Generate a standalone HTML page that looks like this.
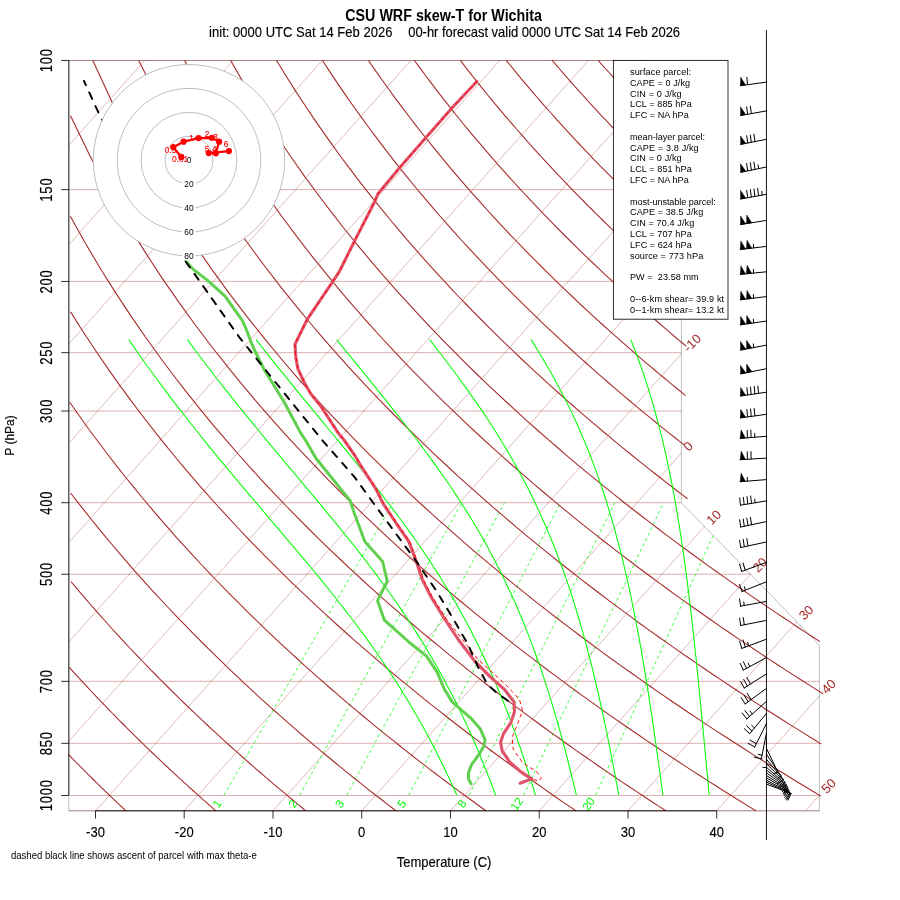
<!DOCTYPE html>
<html lang="en">
<head>
<meta charset="utf-8">
<title>CSU WRF skew-T for Wichita</title>
<style>
html,body{margin:0;padding:0;background:#fff;width:900px;height:900px;overflow:hidden}
svg{display:block;font-family:"Liberation Sans",Arial,Helvetica,sans-serif;font-size:13px;fill:#000;white-space:pre}
text{stroke:#000;stroke-width:.14px;stroke-linejoin:round}
.tl text{stroke:none}
.ml text{stroke:none}
.hk{stroke:#f00}
.isobar{stroke:#A52A2A;stroke-width:.75;stroke-opacity:.5}
.isotherm{stroke:#A52A2A;stroke-width:.8;stroke-opacity:.4}
.outline{stroke:#000;stroke-width:1;stroke-opacity:.25}
.mix{stroke:#0f0;stroke-width:.85;stroke-dasharray:3 3;stroke-opacity:.9}
.dry{stroke:#A52A2A;stroke-width:1.08}
.moist{stroke:#0f0;stroke-width:1.05}
.tl{fill:#A52A2A;font-size:13px}
.ml{fill:#0f0;font-size:11.7px;text-anchor:middle}
.ax path{stroke:#000;stroke-width:1;fill:none;stroke-opacity:.82}
.at{font-size:13px}
.td{stroke:#61D04F;stroke-width:3;fill:none;stroke-linejoin:round;stroke-linecap:round}
.t{stroke:#DF536B;stroke-width:3.1;fill:none;stroke-linejoin:round;stroke-linecap:round}
.tv{stroke:#f00;stroke-width:.95;fill:none;stroke-dasharray:3.1 3.9;stroke-linecap:round}
.pa{stroke:#000;stroke-width:1.95;fill:none;stroke-dasharray:7 8;stroke-dashoffset:-12.55;stroke-linecap:round}
.ring{fill:none;stroke:#bebebe;stroke-width:1}
.hl{font-size:8.4px;text-anchor:middle}
.hk{font-size:8.4px;fill:#f00;text-anchor:middle}
.hline{stroke:#f00;stroke-width:2.3;fill:none;stroke-linejoin:round;stroke-linecap:round}
.box{fill:#fff;stroke:#000;stroke-width:.9;stroke-opacity:.9}
.lg{font-size:9.12px}
.lg text,.fn,.hl{stroke:none}
.bl{stroke:#000;stroke-width:1;fill:none;stroke-linecap:round}
.bx{stroke:#000;stroke-width:1;stroke-opacity:.9;fill:none}
.bf{fill:#000;stroke:#000;stroke-width:.5}
.ttl{font-size:14.3px;font-weight:bold;text-anchor:middle;stroke:none}
.sub{font-size:13px}
.xt{font-size:13px;text-anchor:middle}
.yt{font-size:12px;text-anchor:middle}
.yl{letter-spacing:.8px}
.fn{font-size:9.55px}

</style>
</head>
<body>
<svg width="900" height="900" viewBox="0 0 900 900">
<rect width="900" height="900" fill="#fff"/>
<g fill="none">
<path d="M68.8 810.8H819.4M68.8 795.5H819.4M68.8 743.3H819.4M68.8 681.3H819.4M68.8 574.2H750.8M68.8 502.7H681.4M68.8 411H681.4M68.8 352.7H681.4M68.8 281.4H681.4M68.8 189.6H681.4M68.8 60.5H681.4" class="isobar"/>
<path d="M68.8 145.3L144.9 60.2M68.8 244.6L233.6 60.2M68.8 343.9L322.4 60.2M68.8 443.3L411.1 60.2M68.8 542.6L499.9 60.2M68.8 641.9L588.6 60.2M68.8 741.2L677.4 60.2M95.5 810.8L681.4 155.1M184.2 810.8L681.4 254.4M273 810.8L681.4 353.7M361.7 810.8L681.4 453M450.5 810.8L704.5 526.5M539.2 810.8L750.6 574.2M628 810.8L796.8 621.8M716.7 810.8L819.4 695.9M805.5 810.8L819.4 795.2" class="isotherm"/>
<path d="M68.8 60.5 L68.8 810.8 L819.4 810.8 L819.4 645.2 L681.4 502.7 L681.4 60.5 L68.8 60.5" class="outline"/>
<path d="M595.6 795.2L713.1 535.5M523.6 795.2L663.6 502.7M469.1 795.2L614.8 502.7M408.8 795.2L560.5 502.7M346.7 795.2L504.4 502.7M299.7 795.2L461.9 502.7M224 795.2L393.1 502.7" class="mix"/>
<path d="M68.4 754.4 L69.4 755.4 L70.4 756.5 L71.4 757.5 L72.4 758.5 L73.4 759.6 L74.4 760.6 L75.4 761.6 L76.4 762.6 L77.5 763.6 L78.5 764.7 L79.4 765.7 L80.4 766.7 L81.4 767.7 L82.4 768.7 L83.4 769.7 L84.4 770.7 L85.4 771.7 L86.4 772.7 L87.4 773.6 L88.4 774.6 L89.4 775.6 L90.3 776.6 L91.3 777.5 L92.3 778.5 L93.3 779.5 L94.3 780.5 L95.2 781.4 L96.2 782.4 L97.2 783.3 L98.2 784.3 L99.1 785.2 L100.1 786.2 L101.1 787.1 L102 788.1 L103 789 L104 789.9 L104.9 790.9 L105.9 791.8 L106.9 792.7 L107.8 793.7 L108.8 794.6 L109.7 795.5 L110.7 796.4 L111.6 797.3 L112.6 798.2 L113.5 799.2 L114.5 800.1 L115.4 801 L116.4 801.9 L117.3 802.8 L118.3 803.7 L119.2 804.6 L120.2 805.5 L121.1 806.3 L122.1 807.2 L123 808.1 L123.9 809 L124.9 809.9 L125.8 810.8M69.2 667.3 L72 670.4 L74.7 673.4 L77.5 676.4 L80.2 679.4 L82.9 682.3 L85.6 685.2 L88.3 688.1 L91 691 L93.7 693.8 L96.3 696.6 L99 699.4 L101.6 702.2 L104.3 704.9 L106.9 707.6 L109.5 710.3 L112.1 713 L114.7 715.7 L117.3 718.3 L119.8 720.9 L122.4 723.5 L125 726 L127.5 728.6 L130 731.1 L132.6 733.6 L135.1 736.1 L137.6 738.6 L140.1 741 L142.6 743.4 L145.1 745.8 L147.5 748.2 L150 750.6 L152.5 753 L154.9 755.3 L157.4 757.6 L159.8 759.9 L162.2 762.2 L164.6 764.5 L167 766.7 L169.4 769 L171.8 771.2 L174.2 773.4 L176.6 775.6 L178.9 777.8 L181.3 779.9 L183.6 782.1 L186 784.2 L188.3 786.3 L190.7 788.5 L193 790.5 L195.3 792.6 L197.6 794.7 L199.9 796.7 L202.2 798.8 L204.5 800.8 L206.8 802.8 L209 804.8 L211.3 806.8 L213.5 808.8 L215.8 810.8M70.9 581.5 L75.6 587.1 L80.3 592.7 L85 598.1 L89.6 603.5 L94.2 608.7 L98.7 613.9 L103.3 619 L107.8 624 L112.2 629 L116.7 633.8 L121.1 638.6 L125.5 643.3 L129.8 648 L134.2 652.6 L138.5 657.1 L142.7 661.5 L147 665.9 L151.2 670.3 L155.4 674.5 L159.6 678.8 L163.7 682.9 L167.8 687 L171.9 691.1 L176 695.1 L180.1 699.1 L184.1 703 L188.1 706.8 L192.1 710.6 L196 714.4 L200 718.1 L203.9 721.8 L207.8 725.5 L211.6 729.1 L215.5 732.6 L219.3 736.1 L223.1 739.6 L226.9 743.1 L230.7 746.5 L234.4 749.9 L238.2 753.2 L241.9 756.5 L245.6 759.8 L249.3 763 L252.9 766.2 L256.6 769.4 L260.2 772.5 L263.8 775.6 L267.4 778.7 L271 781.8 L274.5 784.8 L278.1 787.8 L281.6 790.7 L285.1 793.7 L288.6 796.6 L292.1 799.5 L295.5 802.3 L299 805.2 L302.4 808 L305.8 810.8M70.6 493 L77.6 502.1 L84.6 510.9 L91.4 519.5 L98.2 527.9 L104.9 536.1 L111.6 544 L118.2 551.8 L124.7 559.4 L131.1 566.8 L137.5 574.1 L143.8 581.1 L150.1 588.1 L156.3 594.8 L162.5 601.5 L168.6 608 L174.6 614.4 L180.6 620.6 L186.6 626.7 L192.5 632.8 L198.3 638.7 L204.1 644.5 L209.8 650.1 L215.5 655.7 L221.2 661.2 L226.8 666.6 L232.3 671.9 L237.9 677.2 L243.3 682.3 L248.8 687.4 L254.2 692.4 L259.5 697.3 L264.8 702.1 L270.1 706.9 L275.4 711.5 L280.6 716.2 L285.7 720.7 L290.8 725.2 L295.9 729.6 L301 734 L306 738.3 L311 742.6 L316 746.8 L320.9 750.9 L325.8 755 L330.7 759 L335.5 763 L340.3 766.9 L345.1 770.8 L349.8 774.7 L354.6 778.5 L359.2 782.2 L363.9 785.9 L368.5 789.6 L373.2 793.2 L377.7 796.8 L382.3 800.3 L386.8 803.9 L391.3 807.3 L395.8 810.8M69.7 402.2 L79.4 416 L88.8 429.2 L98.2 441.8 L107.4 454 L116.4 465.7 L125.4 477 L134.2 487.9 L142.9 498.5 L151.5 508.7 L160 518.6 L168.4 528.2 L176.6 537.6 L184.8 546.6 L192.9 555.4 L200.8 564 L208.7 572.4 L216.5 580.5 L224.2 588.4 L231.8 596.2 L239.4 603.7 L246.8 611.1 L254.2 618.3 L261.5 625.4 L268.7 632.3 L275.9 639.1 L282.9 645.7 L290 652.2 L296.9 658.5 L303.8 664.8 L310.6 670.9 L317.3 676.9 L324 682.7 L330.7 688.5 L337.2 694.2 L343.8 699.8 L350.2 705.3 L356.6 710.7 L363 716 L369.3 721.2 L375.5 726.3 L381.7 731.3 L387.9 736.3 L394 741.2 L400 746 L406.1 750.8 L412 755.5 L417.9 760.1 L423.8 764.6 L429.6 769.1 L435.4 773.5 L441.2 777.9 L446.9 782.2 L452.6 786.4 L458.2 790.6 L463.8 794.7 L469.3 798.8 L474.9 802.8 L480.3 806.8 L485.8 810.8M70.6 311.9 L83.1 331.7 L95.4 350.3 L107.4 367.9 L119.2 384.6 L130.8 400.4 L142.2 415.5 L153.4 429.9 L164.4 443.7 L175.2 457 L185.8 469.7 L196.3 481.9 L206.6 493.6 L216.8 505 L226.8 515.9 L236.6 526.5 L246.3 536.8 L255.9 546.7 L265.4 556.4 L274.7 565.7 L283.9 574.8 L292.9 583.6 L301.9 592.2 L310.8 600.6 L319.5 608.7 L328.1 616.7 L336.7 624.5 L345.1 632 L353.4 639.4 L361.7 646.7 L369.9 653.7 L377.9 660.7 L385.9 667.4 L393.8 674.1 L401.6 680.6 L409.4 686.9 L417 693.2 L424.6 699.3 L432.1 705.3 L439.6 711.2 L447 717 L454.3 722.7 L461.5 728.2 L468.7 733.7 L475.8 739.1 L482.9 744.4 L489.9 749.7 L496.8 754.8 L503.7 759.9 L510.5 764.8 L517.2 769.7 L524 774.6 L530.6 779.3 L537.2 784 L543.8 788.6 L550.3 793.2 L556.7 797.7 L563.1 802.1 L569.5 806.4 L575.8 810.8M70.3 216.2 L86 244.3 L101.4 270.2 L116.5 294.1 L131.2 316.4 L145.6 337.2 L159.6 356.7 L173.4 375.2 L186.9 392.6 L200.1 409.1 L213 424.8 L225.7 439.7 L238.1 454 L250.3 467.7 L262.3 480.8 L274.1 493.4 L285.7 505.5 L297.1 517.2 L308.3 528.5 L319.3 539.3 L330.2 549.9 L340.9 560 L351.4 569.9 L361.8 579.5 L372.1 588.8 L382.2 597.8 L392.1 606.6 L402 615.1 L411.7 623.5 L421.2 631.6 L430.7 639.5 L440.1 647.2 L449.3 654.8 L458.4 662.1 L467.4 669.3 L476.4 676.4 L485.2 683.2 L493.9 690 L502.5 696.6 L511.1 703.1 L519.5 709.4 L527.9 715.6 L536.2 721.7 L544.4 727.7 L552.5 733.6 L560.5 739.3 L568.5 745 L576.4 750.6 L584.2 756 L591.9 761.4 L599.6 766.7 L607.2 771.9 L614.7 777 L622.2 782.1 L629.6 787 L637 791.9 L644.3 796.7 L651.5 801.5 L658.7 806.1 L665.8 810.8M70.5 115.7 L89.8 155.5 L108.6 190.8 L126.9 222.6 L144.8 251.6 L162.1 278.1 L179.1 302.6 L195.5 325.3 L211.6 346.5 L227.3 366.4 L242.6 385.2 L257.5 402.9 L272.1 419.6 L286.4 435.6 L300.4 450.7 L314.2 465.2 L327.6 479.1 L340.8 492.4 L353.8 505.1 L366.5 517.4 L379 529.2 L391.2 540.6 L403.3 551.6 L415.2 562.2 L426.9 572.5 L438.4 582.4 L449.7 592.1 L460.9 601.5 L471.9 610.6 L482.8 619.4 L493.5 628 L504 636.4 L514.4 644.6 L524.7 652.6 L534.9 660.4 L544.9 668 L554.8 675.4 L564.6 682.6 L574.3 689.7 L583.8 696.6 L593.3 703.4 L602.6 710.1 L611.9 716.6 L621 723 L630.1 729.2 L639 735.3 L647.9 741.4 L656.7 747.3 L665.4 753.1 L674 758.8 L682.5 764.4 L690.9 769.9 L699.3 775.3 L707.6 780.6 L715.8 785.8 L723.9 791 L732 796 L740 801 L747.9 805.9 L755.8 810.8M92.7 60.2 L113.7 105.7 L134.3 145.4 L154.3 180.8 L173.7 212.6 L192.6 241.6 L210.9 268.1 L228.7 292.6 L246 315.4 L262.9 336.6 L279.3 356.5 L295.3 375.3 L311 393 L326.3 409.8 L341.3 425.7 L355.9 440.9 L370.2 455.4 L384.3 469.2 L398.1 482.5 L411.6 495.3 L424.8 507.5 L437.9 519.3 L450.7 530.7 L463.2 541.7 L475.6 552.4 L487.8 562.6 L499.8 572.6 L511.6 582.3 L523.2 591.6 L534.6 600.8 L545.9 609.6 L557 618.2 L568 626.6 L578.8 634.8 L589.5 642.8 L600.1 650.6 L610.5 658.2 L620.8 665.6 L630.9 672.8 L641 679.9 L650.9 686.8 L660.7 693.6 L670.4 700.3 L680 706.8 L689.5 713.2 L698.9 719.4 L708.2 725.6 L717.4 731.6 L726.5 737.5 L735.5 743.3 L744.4 749 L753.2 754.6 L762 760.1 L770.6 765.5 L779.2 770.8 L787.7 776 L796.2 781.2 L804.5 786.2 L812.8 791.2 L821 796.1M138.6 60.2 L157.8 98.5 L176.5 132.7 L194.7 163.6 L212.5 191.7 L229.7 217.6 L246.5 241.5 L262.9 263.8 L278.9 284.6 L294.5 304.1 L309.7 322.5 L324.6 339.9 L339.1 356.4 L353.3 372.1 L367.3 387.1 L380.9 401.4 L394.3 415 L407.5 428.1 L420.4 440.7 L433 452.9 L445.5 464.5 L457.7 475.8 L469.7 486.7 L481.6 497.2 L493.2 507.4 L504.7 517.2 L516 526.8 L527.1 536.1 L538.1 545.1 L548.9 553.9 L559.6 562.5 L570.2 570.8 L580.5 578.9 L590.8 586.8 L600.9 594.5 L610.9 602.1 L620.8 609.4 L630.6 616.6 L640.2 623.7 L649.8 630.6 L659.2 637.3 L668.6 643.9 L677.8 650.4 L686.9 656.7 L695.9 662.9 L704.9 669 L713.7 675 L722.5 680.9 L731.2 686.7 L739.8 692.3 L748.3 697.9 L756.7 703.4 L765 708.7 L773.3 714 L781.5 719.2 L789.6 724.4 L797.7 729.4 L805.7 734.4 L813.6 739.2 L821.4 744.1M184.5 60.2 L201.9 92.5 L218.9 121.8 L235.5 148.7 L251.7 173.4 L267.4 196.4 L282.8 217.8 L297.8 237.9 L312.5 256.8 L326.9 274.7 L340.9 291.6 L354.7 307.6 L368.1 322.9 L381.3 337.5 L394.3 351.4 L407 364.8 L419.5 377.6 L431.7 389.9 L443.8 401.8 L455.6 413.2 L467.2 424.3 L478.7 435 L490 445.3 L501.1 455.3 L512 465 L522.8 474.4 L533.4 483.6 L543.9 492.5 L554.3 501.1 L564.5 509.6 L574.5 517.8 L584.5 525.8 L594.3 533.6 L604 541.2 L613.6 548.6 L623 555.9 L632.4 563 L641.6 570 L650.8 576.8 L659.8 583.4 L668.8 590 L677.6 596.4 L686.4 602.6 L695 608.8 L703.6 614.8 L712.1 620.7 L720.5 626.6 L728.9 632.3 L737.1 637.9 L745.3 643.4 L753.4 648.8 L761.4 654.1 L769.3 659.4 L777.2 664.5 L785 669.6 L792.8 674.6 L800.5 679.5 L808.1 684.4 L815.6 689.1 L823.1 693.8M230.5 60.2 L246 87.1 L261.2 111.8 L276 134.8 L290.5 156.3 L304.6 176.4 L318.5 195.3 L332.1 213.1 L345.3 230 L358.4 246.1 L371.1 261.4 L383.6 275.9 L395.9 289.9 L408 303.2 L419.9 316.1 L431.5 328.4 L443 340.3 L454.2 351.7 L465.3 362.8 L476.2 373.5 L487 383.8 L497.6 393.8 L508 403.5 L518.3 412.9 L528.4 422.1 L538.4 431 L548.3 439.6 L558 448 L567.6 456.3 L577.1 464.3 L586.5 472.1 L595.8 479.7 L604.9 487.1 L614 494.4 L622.9 501.5 L631.8 508.5 L640.5 515.3 L649.2 521.9 L657.8 528.5 L666.2 534.9 L674.6 541.1 L682.9 547.3 L691.1 553.3 L699.3 559.2 L707.3 565.1 L715.3 570.8 L723.2 576.4 L731 581.9 L738.8 587.3 L746.5 592.6 L754.1 597.9 L761.7 603 L769.2 608.1 L776.6 613.1 L784 618 L791.3 622.9 L798.5 627.7 L805.7 632.4 L812.8 637 L819.9 641.6M276.4 60.2 L285.9 75.8 L295.3 90.6 L304.6 104.8 L313.7 118.4 L322.7 131.4 L331.6 143.9 L340.3 156 L349 167.6 L357.5 178.8 L365.9 189.6 L374.2 200.1 L382.4 210.2 L390.5 220 L398.5 229.6 L406.3 238.8 L414.2 247.8 L421.9 256.6 L429.5 265.1 L437 273.4 L444.5 281.4 L451.8 289.3 L459.1 297 L466.4 304.5 L473.5 311.9 L480.6 319 L487.6 326.1 L494.5 332.9 L501.3 339.6 L508.1 346.2 L514.9 352.7 L521.5 359 L528.1 365.2 L534.7 371.3 L541.2 377.2 L547.6 383.1 L554 388.9 L560.3 394.5 L566.5 400.1 L572.8 405.5 L578.9 410.9 L585 416.1 L591.1 421.3 L597.1 426.4 L603.1 431.5 L609 436.4 L614.9 441.3 L620.7 446.1 L626.5 450.8 L632.2 455.5 L637.9 460.1 L643.6 464.6 L649.2 469.1 L654.8 473.5 L660.3 477.8 L665.8 482.1 L671.3 486.3 L676.7 490.5 L682.1 494.6 L687.4 498.7M322.3 60.2 L330.4 72.6 L338.4 84.6 L346.3 96.1 L354.1 107.2 L361.8 117.9 L369.4 128.3 L376.9 138.4 L384.3 148.2 L391.7 157.6 L398.9 166.8 L406.1 175.8 L413.2 184.5 L420.2 192.9 L427.2 201.2 L434 209.2 L440.8 217 L447.6 224.7 L454.2 232.2 L460.8 239.5 L467.4 246.6 L473.9 253.6 L480.3 260.4 L486.6 267.1 L492.9 273.7 L499.2 280.1 L505.3 286.4 L511.5 292.6 L517.5 298.6 L523.6 304.6 L529.5 310.4 L535.5 316.1 L541.3 321.8 L547.1 327.3 L552.9 332.7 L558.7 338.1 L564.3 343.3 L570 348.5 L575.6 353.6 L581.1 358.6 L586.6 363.5 L592.1 368.4 L597.5 373.2 L602.9 377.9 L608.3 382.5 L613.6 387.1 L618.9 391.6 L624.1 396.1 L629.3 400.5 L634.5 404.8 L639.6 409.1 L644.7 413.3 L649.8 417.4 L654.8 421.5 L659.8 425.6 L664.8 429.6 L669.7 433.6 L674.7 437.5 L679.5 441.3 L684.4 445.1M368.3 60.2 L375.1 70.1 L381.9 79.7 L388.6 89 L395.2 98.1 L401.8 106.9 L408.3 115.5 L414.7 123.8 L421.1 132 L427.4 139.9 L433.6 147.7 L439.8 155.2 L445.9 162.6 L452 169.8 L458 176.9 L464 183.8 L469.9 190.6 L475.7 197.2 L481.5 203.7 L487.3 210 L493 216.3 L498.6 222.4 L504.2 228.4 L509.8 234.3 L515.3 240 L520.8 245.7 L526.2 251.3 L531.6 256.8 L537 262.2 L542.3 267.5 L547.5 272.7 L552.8 277.8 L557.9 282.9 L563.1 287.8 L568.2 292.7 L573.3 297.5 L578.3 302.3 L583.3 307 L588.3 311.6 L593.2 316.1 L598.1 320.6 L603 325 L607.8 329.4 L612.6 333.7 L617.4 337.9 L622.2 342.1 L626.9 346.2 L631.6 350.3 L636.2 354.4 L640.8 358.3 L645.4 362.3 L650 366.2 L654.6 370 L659.1 373.8 L663.6 377.5 L668 381.2 L672.5 384.9 L676.9 388.5 L681.3 392.1 L685.6 395.6M414.2 60.2 L419.9 67.9 L425.5 75.5 L431.1 82.9 L436.6 90.1 L442 97.2 L447.5 104.1 L452.8 110.9 L458.2 117.5 L463.4 124 L468.7 130.3 L473.9 136.6 L479.1 142.7 L484.2 148.7 L489.3 154.6 L494.3 160.4 L499.3 166.1 L504.3 171.6 L509.2 177.1 L514.1 182.5 L519 187.8 L523.8 193 L528.6 198.2 L533.3 203.2 L538.1 208.2 L542.8 213.1 L547.4 217.9 L552 222.7 L556.6 227.3 L561.2 232 L565.7 236.5 L570.3 241 L574.7 245.4 L579.2 249.8 L583.6 254.1 L588 258.3 L592.4 262.5 L596.7 266.6 L601 270.7 L605.3 274.8 L609.6 278.7 L613.8 282.7 L618 286.5 L622.2 290.4 L626.4 294.2 L630.5 297.9 L634.7 301.6 L638.7 305.3 L642.8 308.9 L646.9 312.5 L650.9 316 L654.9 319.5 L658.9 323 L662.9 326.4 L666.8 329.8 L670.7 333.2 L674.6 336.5 L678.5 339.8 L682.4 343 L686.2 346.2M460.2 60.2 L464.7 66.1 L469.2 71.9 L473.7 77.6 L478.1 83.2 L482.6 88.6 L486.9 94 L491.3 99.4 L495.6 104.6 L499.9 109.7 L504.2 114.8 L508.4 119.7 L512.7 124.6 L516.9 129.5 L521 134.2 L525.2 138.9 L529.3 143.5 L533.4 148.1 L537.4 152.6 L541.5 157 L545.5 161.4 L549.5 165.7 L553.4 169.9 L557.4 174.1 L561.3 178.2 L565.2 182.3 L569.1 186.4 L572.9 190.3 L576.8 194.3 L580.6 198.2 L584.4 202 L588.1 205.8 L591.9 209.5 L595.6 213.3 L599.3 216.9 L603 220.5 L606.7 224.1 L610.3 227.7 L614 231.2 L617.6 234.6 L621.2 238.1 L624.8 241.4 L628.3 244.8 L631.9 248.1 L635.4 251.4 L638.9 254.7 L642.4 257.9 L645.9 261.1 L649.3 264.2 L652.8 267.3 L656.2 270.4 L659.6 273.5 L663 276.5 L666.4 279.6 L669.7 282.5 L673.1 285.5 L676.4 288.4 L679.7 291.3 L683 294.2 L686.3 297M506.1 60.2 L509.6 64.5 L513 68.7 L516.5 72.9 L519.9 77.1 L523.3 81.1 L526.7 85.2 L530.1 89.1 L533.5 93.1 L536.8 97 L540.1 100.8 L543.4 104.6 L546.7 108.3 L550 112 L553.3 115.7 L556.5 119.3 L559.7 122.9 L562.9 126.4 L566.1 129.9 L569.3 133.4 L572.5 136.8 L575.6 140.2 L578.8 143.5 L581.9 146.8 L585 150.1 L588.1 153.4 L591.2 156.6 L594.2 159.8 L597.3 162.9 L600.3 166.1 L603.4 169.1 L606.4 172.2 L609.4 175.2 L612.4 178.2 L615.3 181.2 L618.3 184.2 L621.2 187.1 L624.2 190 L627.1 192.9 L630 195.7 L632.9 198.5 L635.8 201.3 L638.7 204.1 L641.5 206.8 L644.4 209.5 L647.2 212.2 L650.1 214.9 L652.9 217.6 L655.7 220.2 L658.5 222.8 L661.3 225.4 L664.1 228 L666.8 230.5 L669.6 233.1 L672.3 235.6 L675.1 238.1 L677.8 240.5 L680.5 243 L683.2 245.4 L685.9 247.8M552 60.2 L554.6 63.2 L557.1 66.1 L559.6 69 L562.1 71.9 L564.5 74.7 L567 77.6 L569.5 80.4 L571.9 83.2 L574.4 85.9 L576.8 88.6 L579.2 91.4 L581.6 94 L584.1 96.7 L586.5 99.4 L588.8 102 L591.2 104.6 L593.6 107.2 L596 109.7 L598.3 112.3 L600.7 114.8 L603 117.3 L605.4 119.7 L607.7 122.2 L610 124.6 L612.3 127.1 L614.6 129.5 L616.9 131.9 L619.2 134.2 L621.5 136.6 L623.7 138.9 L626 141.2 L628.3 143.5 L630.5 145.8 L632.8 148.1 L635 150.3 L637.2 152.6 L639.4 154.8 L641.7 157 L643.9 159.2 L646.1 161.4 L648.3 163.5 L650.4 165.7 L652.6 167.8 L654.8 169.9 L657 172 L659.1 174.1 L661.3 176.2 L663.4 178.2 L665.6 180.3 L667.7 182.3 L669.8 184.3 L671.9 186.4 L674.1 188.4 L676.2 190.3 L678.3 192.3 L680.4 194.3 L682.4 196.2 L684.5 198.2 L686.6 200.1M598 60.2 L599.6 62 L601.1 63.8 L602.7 65.5 L604.3 67.3 L605.9 69 L607.4 70.7 L609 72.5 L610.6 74.2 L612.1 75.9 L613.7 77.6 L615.2 79.3 L616.8 80.9 L618.3 82.6 L619.8 84.3 L621.4 85.9 L622.9 87.6 L624.4 89.2 L626 90.8 L627.5 92.4 L629 94 L630.5 95.6 L632 97.2 L633.5 98.8 L635 100.4 L636.5 102 L638 103.5 L639.5 105.1 L641 106.6 L642.5 108.2 L644 109.7 L645.5 111.2 L647 112.8 L648.4 114.3 L649.9 115.8 L651.4 117.3 L652.8 118.8 L654.3 120.2 L655.8 121.7 L657.2 123.2 L658.7 124.6 L660.1 126.1 L661.6 127.6 L663 129 L664.5 130.4 L665.9 131.9 L667.3 133.3 L668.8 134.7 L670.2 136.1 L671.6 137.5 L673 138.9 L674.5 140.3 L675.9 141.7 L677.3 143.1 L678.7 144.4 L680.1 145.8 L681.5 147.2 L682.9 148.5 L684.3 149.9 L685.7 151.2M643.9 60.2 L644.7 61 L645.4 61.8 L646.2 62.6 L646.9 63.4 L647.7 64.2 L648.4 65 L649.2 65.8 L649.9 66.6 L650.7 67.4 L651.4 68.2 L652.2 69 L652.9 69.8 L653.7 70.6 L654.4 71.4 L655.1 72.1 L655.9 72.9 L656.6 73.7 L657.4 74.5 L658.1 75.3 L658.8 76 L659.6 76.8 L660.3 77.6 L661.1 78.3 L661.8 79.1 L662.5 79.9 L663.3 80.6 L664 81.4 L664.7 82.2 L665.5 82.9 L666.2 83.7 L666.9 84.4 L667.7 85.2 L668.4 85.9 L669.1 86.7 L669.8 87.4 L670.6 88.2 L671.3 88.9 L672 89.6 L672.7 90.4 L673.5 91.1 L674.2 91.8 L674.9 92.6 L675.6 93.3 L676.4 94 L677.1 94.8 L677.8 95.5 L678.5 96.2 L679.2 97 L679.9 97.7 L680.7 98.4 L681.4 99.1 L682.1 99.8 L682.8 100.5 L683.5 101.3 L684.2 102 L684.9 102.7 L685.7 103.4 L686.4 104.1 L687.1 104.8" class="dry"/>
<path d="M709.3 795.2 L709 792 L708.6 788.7 L708.3 785.5 L708 782.1 L707.7 778.8 L707.4 775.4 L707.1 772 L706.7 768.6 L706.4 765.1 L706.1 761.5 L705.7 758 L705.4 754.4 L705 750.7 L704.7 747 L704.3 743.3 L704 739.5 L703.6 735.7 L703.3 731.8 L702.9 727.9 L702.5 723.9 L702.1 719.9 L701.7 715.9 L701.3 711.7 L700.9 707.6 L700.5 703.3 L700.1 699.1 L699.7 694.7 L699.2 690.3 L698.8 685.9 L698.4 681.3 L697.9 676.7 L697.4 672.1 L696.9 667.3 L696.5 662.5 L696 657.7 L695.4 652.7 L694.9 647.7 L694.4 642.6 L693.8 637.4 L693.2 632.1 L692.6 626.8 L692 621.3 L691.4 615.8 L690.7 610.1 L690 604.3 L689.3 598.5 L688.6 592.5 L687.8 586.4 L687.1 580.2 L686.2 573.9 L685.4 567.5 L684.5 560.9 L683.5 554.2 L682.5 547.3 L681.5 540.3 L680.4 533.1 L679.3 525.8 L678 518.3 L676.8 510.6 L675.4 502.7 L673.9 494.6 L672.4 486.3 L670.7 477.8 L668.9 469.1 L667 460.1 L665 450.8 L662.8 441.3 L660.4 431.5 L657.7 421.3 L654.9 410.9 L651.8 400.1 L648.4 388.9 L644.6 377.2 L640.5 365.2 L635.9 352.7 L630.8 339.6M662.9 795.2 L662.5 792 L662 788.7 L661.6 785.5 L661.1 782.1 L660.7 778.8 L660.2 775.4 L659.8 772 L659.3 768.6 L658.8 765.1 L658.3 761.5 L657.8 758 L657.3 754.4 L656.8 750.7 L656.3 747 L655.8 743.3 L655.2 739.5 L654.7 735.7 L654.1 731.8 L653.6 727.9 L653 723.9 L652.4 719.9 L651.8 715.9 L651.2 711.7 L650.5 707.6 L649.9 703.3 L649.2 699.1 L648.6 694.7 L647.9 690.3 L647.2 685.9 L646.4 681.3 L645.7 676.7 L644.9 672.1 L644.2 667.3 L643.3 662.5 L642.5 657.7 L641.7 652.7 L640.8 647.7 L639.9 642.6 L638.9 637.4 L638 632.1 L636.9 626.8 L635.9 621.3 L634.8 615.8 L633.7 610.1 L632.5 604.3 L631.3 598.5 L630.1 592.5 L628.8 586.4 L627.4 580.2 L625.9 573.9 L624.4 567.5 L622.9 560.9 L621.2 554.2 L619.5 547.3 L617.6 540.3 L615.7 533.1 L613.7 525.8 L611.5 518.3 L609.2 510.6 L606.8 502.7 L604.2 494.6 L601.5 486.3 L598.5 477.8 L595.4 469.1 L592 460.1 L588.4 450.8 L584.5 441.3 L580.3 431.5 L575.8 421.3 L570.9 410.9 L565.6 400.1 L559.8 388.9 L553.5 377.2 L546.7 365.2 L539.2 352.7 L531.1 339.6M618.7 795.2 L618.1 792 L617.6 788.7 L617 785.5 L616.3 782.1 L615.7 778.8 L615.1 775.4 L614.5 772 L613.8 768.6 L613.1 765.1 L612.5 761.5 L611.8 758 L611.1 754.4 L610.4 750.7 L609.6 747 L608.9 743.3 L608.1 739.5 L607.4 735.7 L606.6 731.8 L605.8 727.9 L604.9 723.9 L604.1 719.9 L603.2 715.9 L602.3 711.7 L601.4 707.6 L600.5 703.3 L599.5 699.1 L598.6 694.7 L597.5 690.3 L596.5 685.9 L595.4 681.3 L594.3 676.7 L593.2 672.1 L592.1 667.3 L590.9 662.5 L589.6 657.7 L588.3 652.7 L587 647.7 L585.7 642.6 L584.2 637.4 L582.8 632.1 L581.2 626.8 L579.7 621.3 L578 615.8 L576.3 610.1 L574.5 604.3 L572.7 598.5 L570.8 592.5 L568.7 586.4 L566.6 580.2 L564.4 573.9 L562.1 567.5 L559.7 560.9 L557.1 554.2 L554.5 547.3 L551.6 540.3 L548.7 533.1 L545.5 525.8 L542.2 518.3 L538.7 510.6 L535 502.7 L531.1 494.6 L526.9 486.3 L522.5 477.8 L517.7 469.1 L512.7 460.1 L507.3 450.8 L501.6 441.3 L495.5 431.5 L489 421.3 L482.1 410.9 L474.6 400.1 L466.7 388.9 L458.3 377.2 L449.3 365.2 L439.8 352.7 L429.7 339.6M576.3 795.2 L575.6 792 L574.8 788.7 L574 785.5 L573.2 782.1 L572.4 778.8 L571.6 775.4 L570.7 772 L569.9 768.6 L569 765.1 L568.1 761.5 L567.2 758 L566.2 754.4 L565.3 750.7 L564.3 747 L563.3 743.3 L562.3 739.5 L561.2 735.7 L560.2 731.8 L559.1 727.9 L558 723.9 L556.8 719.9 L555.6 715.9 L554.4 711.7 L553.2 707.6 L551.9 703.3 L550.6 699.1 L549.2 694.7 L547.9 690.3 L546.4 685.9 L545 681.3 L543.4 676.7 L541.9 672.1 L540.3 667.3 L538.6 662.5 L536.9 657.7 L535.1 652.7 L533.2 647.7 L531.3 642.6 L529.4 637.4 L527.3 632.1 L525.2 626.8 L523 621.3 L520.6 615.8 L518.3 610.1 L515.8 604.3 L513.2 598.5 L510.5 592.5 L507.6 586.4 L504.7 580.2 L501.6 573.9 L498.3 567.5 L495 560.9 L491.4 554.2 L487.7 547.3 L483.8 540.3 L479.7 533.1 L475.4 525.8 L470.9 518.3 L466.1 510.6 L461.1 502.7 L455.8 494.6 L450.3 486.3 L444.4 477.8 L438.3 469.1 L431.8 460.1 L425 450.8 L417.9 441.3 L410.4 431.5 L402.5 421.3 L394.3 410.9 L385.6 400.1 L376.6 388.9 L367.2 377.2 L357.4 365.2 L347.2 352.7 L336.7 339.6M535.4 795.2 L534.4 792 L533.5 788.7 L532.5 785.5 L531.4 782.1 L530.4 778.8 L529.3 775.4 L528.3 772 L527.2 768.6 L526 765.1 L524.9 761.5 L523.7 758 L522.5 754.4 L521.3 750.7 L520 747 L518.7 743.3 L517.4 739.5 L516.1 735.7 L514.7 731.8 L513.2 727.9 L511.8 723.9 L510.3 719.9 L508.8 715.9 L507.2 711.7 L505.6 707.6 L503.9 703.3 L502.2 699.1 L500.4 694.7 L498.6 690.3 L496.7 685.9 L494.8 681.3 L492.8 676.7 L490.7 672.1 L488.6 667.3 L486.4 662.5 L484.2 657.7 L481.8 652.7 L479.4 647.7 L476.9 642.6 L474.3 637.4 L471.6 632.1 L468.8 626.8 L465.9 621.3 L462.9 615.8 L459.7 610.1 L456.5 604.3 L453.1 598.5 L449.6 592.5 L445.9 586.4 L442.1 580.2 L438.2 573.9 L434 567.5 L429.7 560.9 L425.2 554.2 L420.5 547.3 L415.7 540.3 L410.6 533.1 L405.3 525.8 L399.7 518.3 L394 510.6 L388 502.7 L381.7 494.6 L375.2 486.3 L368.4 477.8 L361.4 469.1 L354.1 460.1 L346.6 450.8 L338.7 441.3 L330.6 431.5 L322.2 421.3 L313.6 410.9 L304.7 400.1 L295.5 388.9 L286 377.2 L276.3 365.2 L266.3 352.7 L256.1 339.6M495.6 795.2 L494.4 792 L493.2 788.7 L492 785.5 L490.7 782.1 L489.5 778.8 L488.1 775.4 L486.8 772 L485.4 768.6 L484 765.1 L482.6 761.5 L481.1 758 L479.6 754.4 L478.1 750.7 L476.5 747 L474.9 743.3 L473.3 739.5 L471.6 735.7 L469.9 731.8 L468.1 727.9 L466.3 723.9 L464.4 719.9 L462.5 715.9 L460.5 711.7 L458.5 707.6 L456.4 703.3 L454.2 699.1 L452 694.7 L449.7 690.3 L447.4 685.9 L445 681.3 L442.5 676.7 L439.9 672.1 L437.3 667.3 L434.5 662.5 L431.7 657.7 L428.8 652.7 L425.8 647.7 L422.7 642.6 L419.5 637.4 L416.1 632.1 L412.7 626.8 L409.1 621.3 L405.4 615.8 L401.6 610.1 L397.7 604.3 L393.6 598.5 L389.4 592.5 L385 586.4 L380.4 580.2 L375.7 573.9 L370.9 567.5 L365.9 560.9 L360.6 554.2 L355.3 547.3 L349.7 540.3 L343.9 533.1 L338 525.8 L331.8 518.3 L325.5 510.6 L318.9 502.7 L312.2 494.6 L305.3 486.3 L298.1 477.8 L290.8 469.1 L283.2 460.1 L275.5 450.8 L267.5 441.3 L259.4 431.5 L251.1 421.3 L242.5 410.9 L233.8 400.1 L224.9 388.9 L215.8 377.2 L206.6 365.2 L197.1 352.7 L187.5 339.6M456.8 795.2 L455.4 792 L453.9 788.7 L452.4 785.5 L450.9 782.1 L449.4 778.8 L447.8 775.4 L446.2 772 L444.5 768.6 L442.8 765.1 L441.1 761.5 L439.3 758 L437.5 754.4 L435.7 750.7 L433.8 747 L431.8 743.3 L429.8 739.5 L427.8 735.7 L425.7 731.8 L423.6 727.9 L421.4 723.9 L419.1 719.9 L416.8 715.9 L414.4 711.7 L412 707.6 L409.5 703.3 L406.9 699.1 L404.2 694.7 L401.5 690.3 L398.7 685.9 L395.8 681.3 L392.8 676.7 L389.8 672.1 L386.6 667.3 L383.4 662.5 L380 657.7 L376.6 652.7 L373.1 647.7 L369.4 642.6 L365.7 637.4 L361.8 632.1 L357.8 626.8 L353.7 621.3 L349.5 615.8 L345.1 610.1 L340.6 604.3 L336 598.5 L331.3 592.5 L326.4 586.4 L321.3 580.2 L316.2 573.9 L310.8 567.5 L305.4 560.9 L299.7 554.2 L294 547.3 L288 540.3 L281.9 533.1 L275.7 525.8 L269.3 518.3 L262.8 510.6 L256.1 502.7 L249.2 494.6 L242.2 486.3 L235.1 477.8 L227.8 469.1 L220.3 460.1 L212.7 450.8 L205 441.3 L197.1 431.5 L189.1 421.3 L180.9 410.9 L172.5 400.1 L164.1 388.9 L155.5 377.2 L146.7 365.2 L137.8 352.7 L128.8 339.6" class="moist"/>
</g>
<g class="tl">
<text transform="translate(681.37 353.72) rotate(-45)" x="5.9" y="4.5">-10</text>
<text transform="translate(681.37 453.04) rotate(-45)" x="5.9" y="4.5">0</text>
<text transform="translate(704.45 526.53) rotate(-45)" x="5.9" y="4.5">10</text>
<text transform="translate(750.63 574.18) rotate(-45)" x="5.9" y="4.5">20</text>
<text transform="translate(796.8 621.83) rotate(-45)" x="5.9" y="4.5">30</text>
<text transform="translate(819.4 695.85) rotate(-45)" x="5.9" y="4.5">40</text>
<text transform="translate(819.4 795.18) rotate(-45)" x="5.9" y="4.5">50</text>
</g>
<g class="ml">
<text transform="translate(588.51 803.06) rotate(-55)" x="-0.6" y="4.5">20</text>
<text transform="translate(516.59 803.06) rotate(-55)" x="-0.6" y="4.5">12</text>
<text transform="translate(462.09 803.06) rotate(-55)" x="-0.6" y="4.5">8</text>
<text transform="translate(401.78 803.06) rotate(-55)" x="-0.6" y="4.5">5</text>
<text transform="translate(339.61 803.06) rotate(-55)" x="-0.6" y="4.5">3</text>
<text transform="translate(292.65 803.06) rotate(-55)" x="-0.6" y="4.5">2</text>
<text transform="translate(216.91 803.06) rotate(-55)" x="-0.6" y="4.5">1</text>
</g>
<g class="ax">
<path d="M68.85 60.2V795.2M68.85 60.45H61.25M68.85 189.62H61.25M68.85 281.45H61.25M68.85 352.68H61.25M68.85 411.02H61.25M68.85 502.7H61.25M68.85 574.23H61.25M68.85 681.33H61.25M68.85 743.3H61.25M68.85 795.48H61.25M95.5 810.8H716.7M95.5 810.8V818.5M184.2 810.8V818.5M273 810.8V818.5M361.7 810.8V818.5M450.5 810.8V818.5M539.2 810.8V818.5M628 810.8V818.5M716.7 810.8V818.5"/>
</g>
<g class="at" text-anchor="middle">
<text transform="translate(51.7 60.2) rotate(-90) scale(1 1.2)" class="yl">100</text>
<text transform="translate(51.7 189.62) rotate(-90) scale(1 1.2)" class="yl">150</text>
<text transform="translate(51.7 281.45) rotate(-90) scale(1 1.2)" class="yl">200</text>
<text transform="translate(51.7 352.68) rotate(-90) scale(1 1.2)" class="yl">250</text>
<text transform="translate(51.7 410.87) rotate(-90) scale(1 1.2)" class="yl">300</text>
<text transform="translate(51.7 502.7) rotate(-90) scale(1 1.2)" class="yl">400</text>
<text transform="translate(51.7 573.93) rotate(-90) scale(1 1.2)" class="yl">500</text>
<text transform="translate(51.7 681.33) rotate(-90) scale(1 1.2)" class="yl">700</text>
<text transform="translate(51.7 743.3) rotate(-90) scale(1 1.2)" class="yl">850</text>
<text transform="translate(51.7 795.18) rotate(-90) scale(1 1.2)" class="yl">1000</text>
<text transform="translate(95.48 837) scale(1 1.09)">-30</text>
<text transform="translate(184.23 837) scale(1 1.09)">-20</text>
<text transform="translate(272.98 837) scale(1 1.09)">-10</text>
<text transform="translate(361.73 837) scale(1 1.09)">0</text>
<text transform="translate(450.48 837) scale(1 1.09)">10</text>
<text transform="translate(539.23 837) scale(1 1.09)">20</text>
<text transform="translate(627.98 837) scale(1 1.09)">30</text>
<text transform="translate(716.73 837) scale(1 1.09)">40</text>
</g>
<path d="M185 259.5 L186.5 261.5 L190.5 266.5 L195.6 271.3 L206.7 279.6 L224.8 295.8 L242.4 320.6 L246.5 330 L251.3 342.8 L254.7 350.5 L264.4 370 L284 401.8 L301 433.6 L305.4 440 L315.8 458 L350.1 500.6 L354.3 513.3 L364.8 541.5 L382.6 561.5 L387.3 581.3 L377.5 600.6 L384.4 620.2 L410 643 L426.5 656.2 L437.5 672.6 L444 688.5 L452.1 701.9 L470.5 717.8 L480.2 728.8 L485.1 739.8 L483.9 745.9 L479 754.5 L471.7 764.3 L468.5 772.8 L468.5 778.9 L471 783.8" class="td"/>
<path d="M476.8 81.5 L451.1 108.9 L426 137.5 L399.8 167.6 L381.5 189.6 L377.8 194 L374.9 201.3 L354.6 240.9 L345.1 260 L339 272.2 L331.7 283.2 L307.2 319.4 L295 344.3 L295.7 356.6 L297.9 368.8 L304.8 383.5 L310.9 394 L320.7 406 L337.8 432.4 L344 440 L354.9 455.6 L359.9 464.4 L375.8 488.9 L383.1 503.6 L397.8 525.6 L408.8 541.5 L413 552.5 L417.4 564.7 L422.2 579.4 L430.8 596.5 L444.3 618.5 L458.6 640 L474.1 660.3 L490 676.7 L504.7 689.7 L514 701.9 L514.5 711.7 L510.8 722.7 L503.5 733.7 L500.5 742.2 L502.2 750.8 L509.6 761.8 L520.6 771.6 L531.6 778.9 L520.1 783.3" class="t"/>
<path d="M476.8 81.5 L451.1 108.9 L426 137.5 L399.8 167.6 L381.5 189.6 L377.8 194 L374.9 201.3 L354.6 240.9 L345.1 260 L339 272.2 L331.7 283.2 L307.2 319.4 L295 344.3 L295.7 356.6 L297.9 368.8 L304.8 383.5 L310.9 394 L320.7 406 L338 432.4 L344.2 440 L355.2 455.6 L360.3 464.4 L376.3 488.9 L383.7 503.6 L398.6 525.6 L409.6 541.5 L414 552.5 L418.5 564.7 L423.4 579.4 L432.2 596.5 L446.2 618.5 L447.2 620 L477.8 659.1 L507.1 686 L519.4 699.5 L522.5 710.5 L518.1 722.7 L512 737.4 L513.3 749.6 L523 763 L536.5 771.6 L541.4 777.7 L539 781 L531.6 778.9" class="tv"/>
<path d="M84 81 L100 116 L186 262 L240 338.2 L322 440 L355 477.6 L373.3 503 L414.9 559.3 L436.9 591.6 L454.6 621.2 L468 644.4 L477.8 666.5 L487.6 684.8 L497.4 693.3 L508.4 701.2" class="pa"/>
<g class="hod">
<circle cx="189" cy="160.2" r="95.7" fill="#fff" stroke="none"/>
<circle cx="189" cy="160.2" r="23.9" class="ring"/>
<circle cx="189" cy="160.2" r="47.9" class="ring"/>
<circle cx="189" cy="160.2" r="71.8" class="ring"/>
<circle cx="189" cy="160.2" r="95.7" class="ring"/>
<text transform="translate(189 163.2) scale(1 1.09)" class="hl">0</text>
<rect x="182.1" y="179.6" width="13.6" height="9" fill="#fff"/>
<text transform="translate(189 187.13) scale(1 1.09)" class="hl">20</text>
<rect x="182.1" y="203.6" width="13.6" height="9" fill="#fff"/>
<text transform="translate(189 211.06) scale(1 1.09)" class="hl">40</text>
<rect x="182.1" y="227.5" width="13.6" height="9" fill="#fff"/>
<text transform="translate(189 234.99) scale(1 1.09)" class="hl">60</text>
<rect x="182.1" y="251.4" width="13.6" height="9" fill="#fff"/>
<text transform="translate(189 258.92) scale(1 1.09)" class="hl">80</text>
<path d="M181.3 156.9 L173.3 147.2 L183.6 141.7 L198.6 138.1 L211.9 137.8 L219.1 141.7 L215.8 153.3 L208.7 153.1 L228.9 151.1" class="hline"/>
<circle cx="181.3" cy="156.9" r="3.1" fill="#f00"/>
<circle cx="173.3" cy="147.2" r="3.1" fill="#f00"/>
<circle cx="183.6" cy="141.7" r="3.1" fill="#f00"/>
<circle cx="198.6" cy="138.1" r="3.1" fill="#f00"/>
<circle cx="211.9" cy="137.8" r="3.1" fill="#f00"/>
<circle cx="219.1" cy="141.7" r="3.1" fill="#f00"/>
<circle cx="215.8" cy="153.3" r="3.1" fill="#f00"/>
<circle cx="208.7" cy="153.1" r="3.1" fill="#f00"/>
<circle cx="228.9" cy="151.1" r="3.1" fill="#f00"/>
<text transform="translate(180.1 162.2) scale(1 1.09)" class="hk">0.01</text>
<text transform="translate(170.5 153.3) scale(1 1.09)" class="hk">0.5</text>
<text transform="translate(191.4 140.5) scale(1 1.09)" class="hk">1</text>
<text transform="translate(207.2 136.8) scale(1 1.09)" class="hk">2</text>
<text transform="translate(215.6 139.5) scale(1 1.09)" class="hk">3</text>
<text transform="translate(214.4 152) scale(1 1.09)" class="hk">4</text>
<text transform="translate(207.2 152) scale(1 1.09)" class="hk">5</text>
<text transform="translate(226.2 147.2) scale(1 1.09)" class="hk">6</text>
</g>
<rect x="613.4" y="60.4" width="114.6" height="258.8" class="box"/>
<g class="lg">
<text textLength="61.1" transform="translate(630 75) scale(1 1.09)" xml:space="preserve">surface parcel:</text>
<text textLength="60.1" transform="translate(630 86) scale(1 1.09)" xml:space="preserve">CAPE = 0 J/kg</text>
<text textLength="51.7" transform="translate(630 97) scale(1 1.09)" xml:space="preserve">CIN = 0 J/kg</text>
<text textLength="61.7" transform="translate(630 107) scale(1 1.09)" xml:space="preserve">LCL = 885 hPa</text>
<text textLength="58.7" transform="translate(630 118) scale(1 1.09)" xml:space="preserve">LFC = NA hPa</text>
<text textLength="75.1" transform="translate(630 140) scale(1 1.09)" xml:space="preserve">mean-layer parcel:</text>
<text textLength="68.7" transform="translate(630 151) scale(1 1.09)" xml:space="preserve">CAPE = 3.8 J/kg</text>
<text textLength="51.7" transform="translate(630 161) scale(1 1.09)" xml:space="preserve">CIN = 0 J/kg</text>
<text textLength="61.7" transform="translate(630 172) scale(1 1.09)" xml:space="preserve">LCL = 851 hPa</text>
<text textLength="58.7" transform="translate(630 183) scale(1 1.09)" xml:space="preserve">LFC = NA hPa</text>
<text textLength="85.7" transform="translate(630 205) scale(1 1.09)" xml:space="preserve">most-unstable parcel:</text>
<text textLength="73.3" transform="translate(630 215) scale(1 1.09)" xml:space="preserve">CAPE = 38.5 J/kg</text>
<text textLength="64.3" transform="translate(630 226) scale(1 1.09)" xml:space="preserve">CIN = 70.4 J/kg</text>
<text textLength="61.7" transform="translate(630 237) scale(1 1.09)" xml:space="preserve">LCL = 707 hPa</text>
<text textLength="61.7" transform="translate(630 248) scale(1 1.09)" xml:space="preserve">LFC = 624 hPa</text>
<text textLength="73.3" transform="translate(630 259) scale(1 1.09)" xml:space="preserve">source = 773 hPa</text>
<text textLength="68.7" transform="translate(630 280) scale(1 1.09)" xml:space="preserve">PW =  23.58 mm</text>
<text textLength="94.1" transform="translate(630 302) scale(1 1.09)" xml:space="preserve">0--6-km shear= 39.9 kt</text>
<text textLength="94.1" transform="translate(630 313) scale(1 1.09)" xml:space="preserve">0--1-km shear= 13.2 kt</text>
</g>
<g class="wb">
<path d="M766.45 30V840" class="bx"/>
<path d="M766.45 82.1L740.4 85.7M747.5 84.7L746.9 77.3M766.45 110.9L740.6 115.5M747.6 114.2L746.7 106.9M751.3 113.6L750.4 106.2M766.45 139.3L740.7 144.4M747.7 143L746.7 135.7M751.3 142.3L750.3 135M755 141.6L753.9 134.2M766.45 167L740.7 172.3M747.7 170.9L746.6 163.5M751.4 170.1L750.3 162.8M755 169.4L753.9 162M758.6 168.6L758.1 164.9M766.45 194.3L740.6 199M747.7 197.7L746.7 190.4M751.3 197.1L750.4 189.7M754.9 196.4L754 189M758.6 195.7L757.6 188.4M762.2 195.1L761.8 191.4M766.45 220.4L740.5 224.6M766.45 246.4L740.3 249.5M753.6 247.9L753.4 244.2M766.45 271.8L740.3 274.4M753.6 273.1L753.4 269.4M766.45 296.6L740.3 299.8M753.6 298.2L753.4 294.5M766.45 321L740.4 324.9M753.7 322.9L753.3 319.2M766.45 345.1L740.6 350.1M753.8 347.5L753.3 343.9M766.45 368.7L740.7 373.9M766.45 392.2L740.4 396M747.6 395L746.9 387.6M751.2 394.4L750.5 387.1M754.9 393.9L754.2 386.5M758.5 393.4L757.9 386M766.45 414.3L740.4 417.9M747.5 416.9L746.9 409.5M751.2 416.4L750.6 409M754.9 415.9L754.2 408.5M766.45 436.3L740.2 438.4M747.4 437.8L747.2 430.4M751.1 437.5L750.9 430.1M754.8 437.2L754.7 433.5M766.45 458.1L740.2 459.7M747.4 459.3L747.3 451.9M751.1 459L751 451.6M766.45 479.6L740.2 481.7M747.4 481.1L747.3 477.4M766.45 500.9L740.5 505.2M740.5 505.2L739.7 497.9M744.2 504.6L743.3 497.3M747.8 504L747 496.6M751.5 503.4L750.6 496M755.1 502.8L754.7 499.1M766.45 521.6L740.7 527M740.7 527L739.6 519.7M744.3 526.3L743.2 519M748 525.5L746.8 518.2M751.6 524.7L750.4 517.4M766.45 542L740.7 547.5M740.7 547.5L739.6 540.2M744.3 546.7L743.2 539.4M748 546L746.8 538.6M766.45 562.4L741.7 571.4M741.7 571.4L739.6 564.3M745.2 570.1L743.1 563M766.45 581.8L742 591.5M742 591.5L739.6 584.5M745.4 590.1L744.3 586.6M766.45 601.4L740.6 606.2M740.6 606.2L739.6 598.9M744.2 605.6L743.8 601.9M766.45 620.4L740.7 625.5M740.7 625.5L739.6 618.2M744.3 624.8L743.2 617.5M766.45 639.2L741.8 648.4M741.8 648.4L739.6 641.3M745.3 647.1L743.1 640M748.7 645.8L747.6 642.2M766.45 657.6L743.3 670.1M743.3 670.1L740.1 663.4M746.6 668.4L743.4 661.7M749.8 666.6L748.2 663.2M766.45 673.9L744.2 688M744.2 688L740.6 681.5M747.4 686L743.7 679.5M750.5 684L746.9 677.6M766.45 688.4L745.2 703.9M745.2 703.9L741.2 697.7M748.2 701.7L744.2 695.5M751.2 699.5L747.1 693.3M766.45 701.4L746.8 718.9M746.8 718.9L742.2 713.1M749.6 716.4L744.9 710.6M752.3 714L750 711.1M766.45 713.4L749.7 733.7M749.7 733.7L744.2 728.6M752 730.8L746.6 725.8M754.4 728L751.7 725.4M766.45 723.5L754.7 747M754.7 747L748.2 743.4M756.3 743.7L749.9 740M766.45 733.1L761.3 758.9M761.3 758.9L754.1 757.1M762 755.3L758.4 754.3M766.45 741.3L766.6 767.6M766.6 767.6L762.9 767.4M766.45 748.3L777.8 772M777.8 772L774.3 773.5M766.45 754.3L781.2 776.1M781.2 776.1L778 778M766.45 759.3L783.4 779.4M783.4 779.4L777.4 783.9M766.45 763.6L785 782.2M785 782.2L779.5 787.1M766.45 767.3L786.3 784.6M786.3 784.6L781.1 789.9M766.45 770.1L787.2 786.3M787.2 786.3L782.3 791.9M784.3 784L781.8 786.8M766.45 772.8L787.9 788.1M787.9 788.1L783.2 793.9M784.8 785.9L782.5 788.8M766.45 775.5L788.6 789.7M788.6 789.7L784.2 795.7M785.5 787.7L783.3 790.7M766.45 777.8L789.1 791.1M789.1 791.1L785 797.3M785.9 789.3L783.9 792.4M766.45 780.2L789.7 792.5M789.7 792.5L785.8 798.9M786.4 790.8L784.5 794M766.45 782.1L790.2 793.3M790.2 793.3L786.7 799.9M766.45 784.1L791.1 793.4M791.1 793.4L788.1 800.1" class="bl"/>
<path d="M740.4 85.7L740.7 77.2L745.5 85ZM740.6 115.5L740.6 106.9L745.7 114.6ZM740.7 144.4L740.5 135.9L745.8 143.4ZM740.7 172.3L740.5 163.8L745.8 171.3ZM740.6 199L740.5 190.5L745.7 198.1ZM740.5 224.6L740.6 216.1L745.6 223.8ZM746.6 223.6L746.8 215.1L751.7 222.8ZM740.3 249.5L740.8 241L745.5 248.9ZM746.5 248.8L747 240.3L751.7 248.2ZM740.3 274.4L740.9 265.9L745.5 273.9ZM746.4 273.8L747.1 265.3L751.6 273.3ZM740.3 299.8L740.8 291.3L745.5 299.2ZM746.5 299.1L747 290.5L751.7 298.4ZM740.4 324.9L740.7 316.4L745.6 324.1ZM746.6 324L746.8 315.4L751.7 323.2ZM740.6 350.1L740.5 341.5L745.7 349.1ZM746.7 348.9L746.6 340.4L751.8 347.9ZM740.7 373.9L740.5 365.4L745.8 372.9ZM746.7 372.7L746.6 364.1L751.8 371.6ZM740.4 396L740.7 387.5L745.6 395.3ZM740.4 417.9L740.7 409.4L745.6 417.2ZM740.2 438.4L741.1 429.9L745.4 438ZM740.2 459.7L741.2 451.2L745.4 459.4ZM740.2 481.7L741.1 473.2L745.4 481.3Z" class="bf"/>
</g>
<text transform="translate(443.6 21.2) scale(1 1.1)" class="ttl">CSU WRF skew-T for Wichita</text>
<text textLength="183.3" transform="translate(209.1 37) scale(1 1.09)" class="sub">init: 0000 UTC Sat 14 Feb 2026</text>
<text textLength="271.9" transform="translate(408.2 37) scale(1 1.09)" class="sub">00-hr forecast valid 0000 UTC Sat 14 Feb 2026</text>
<text transform="translate(444.1 866.7) scale(1 1.09)" class="xt">Temperature (C)</text>
<text transform="translate(14 435.5) rotate(-90)" class="yt">P (hPa)</text>
<text transform="translate(11 858.5) scale(1 1.09)" class="fn">dashed black line shows ascent of parcel with max theta-e</text>
</svg>
</body>
</html>
